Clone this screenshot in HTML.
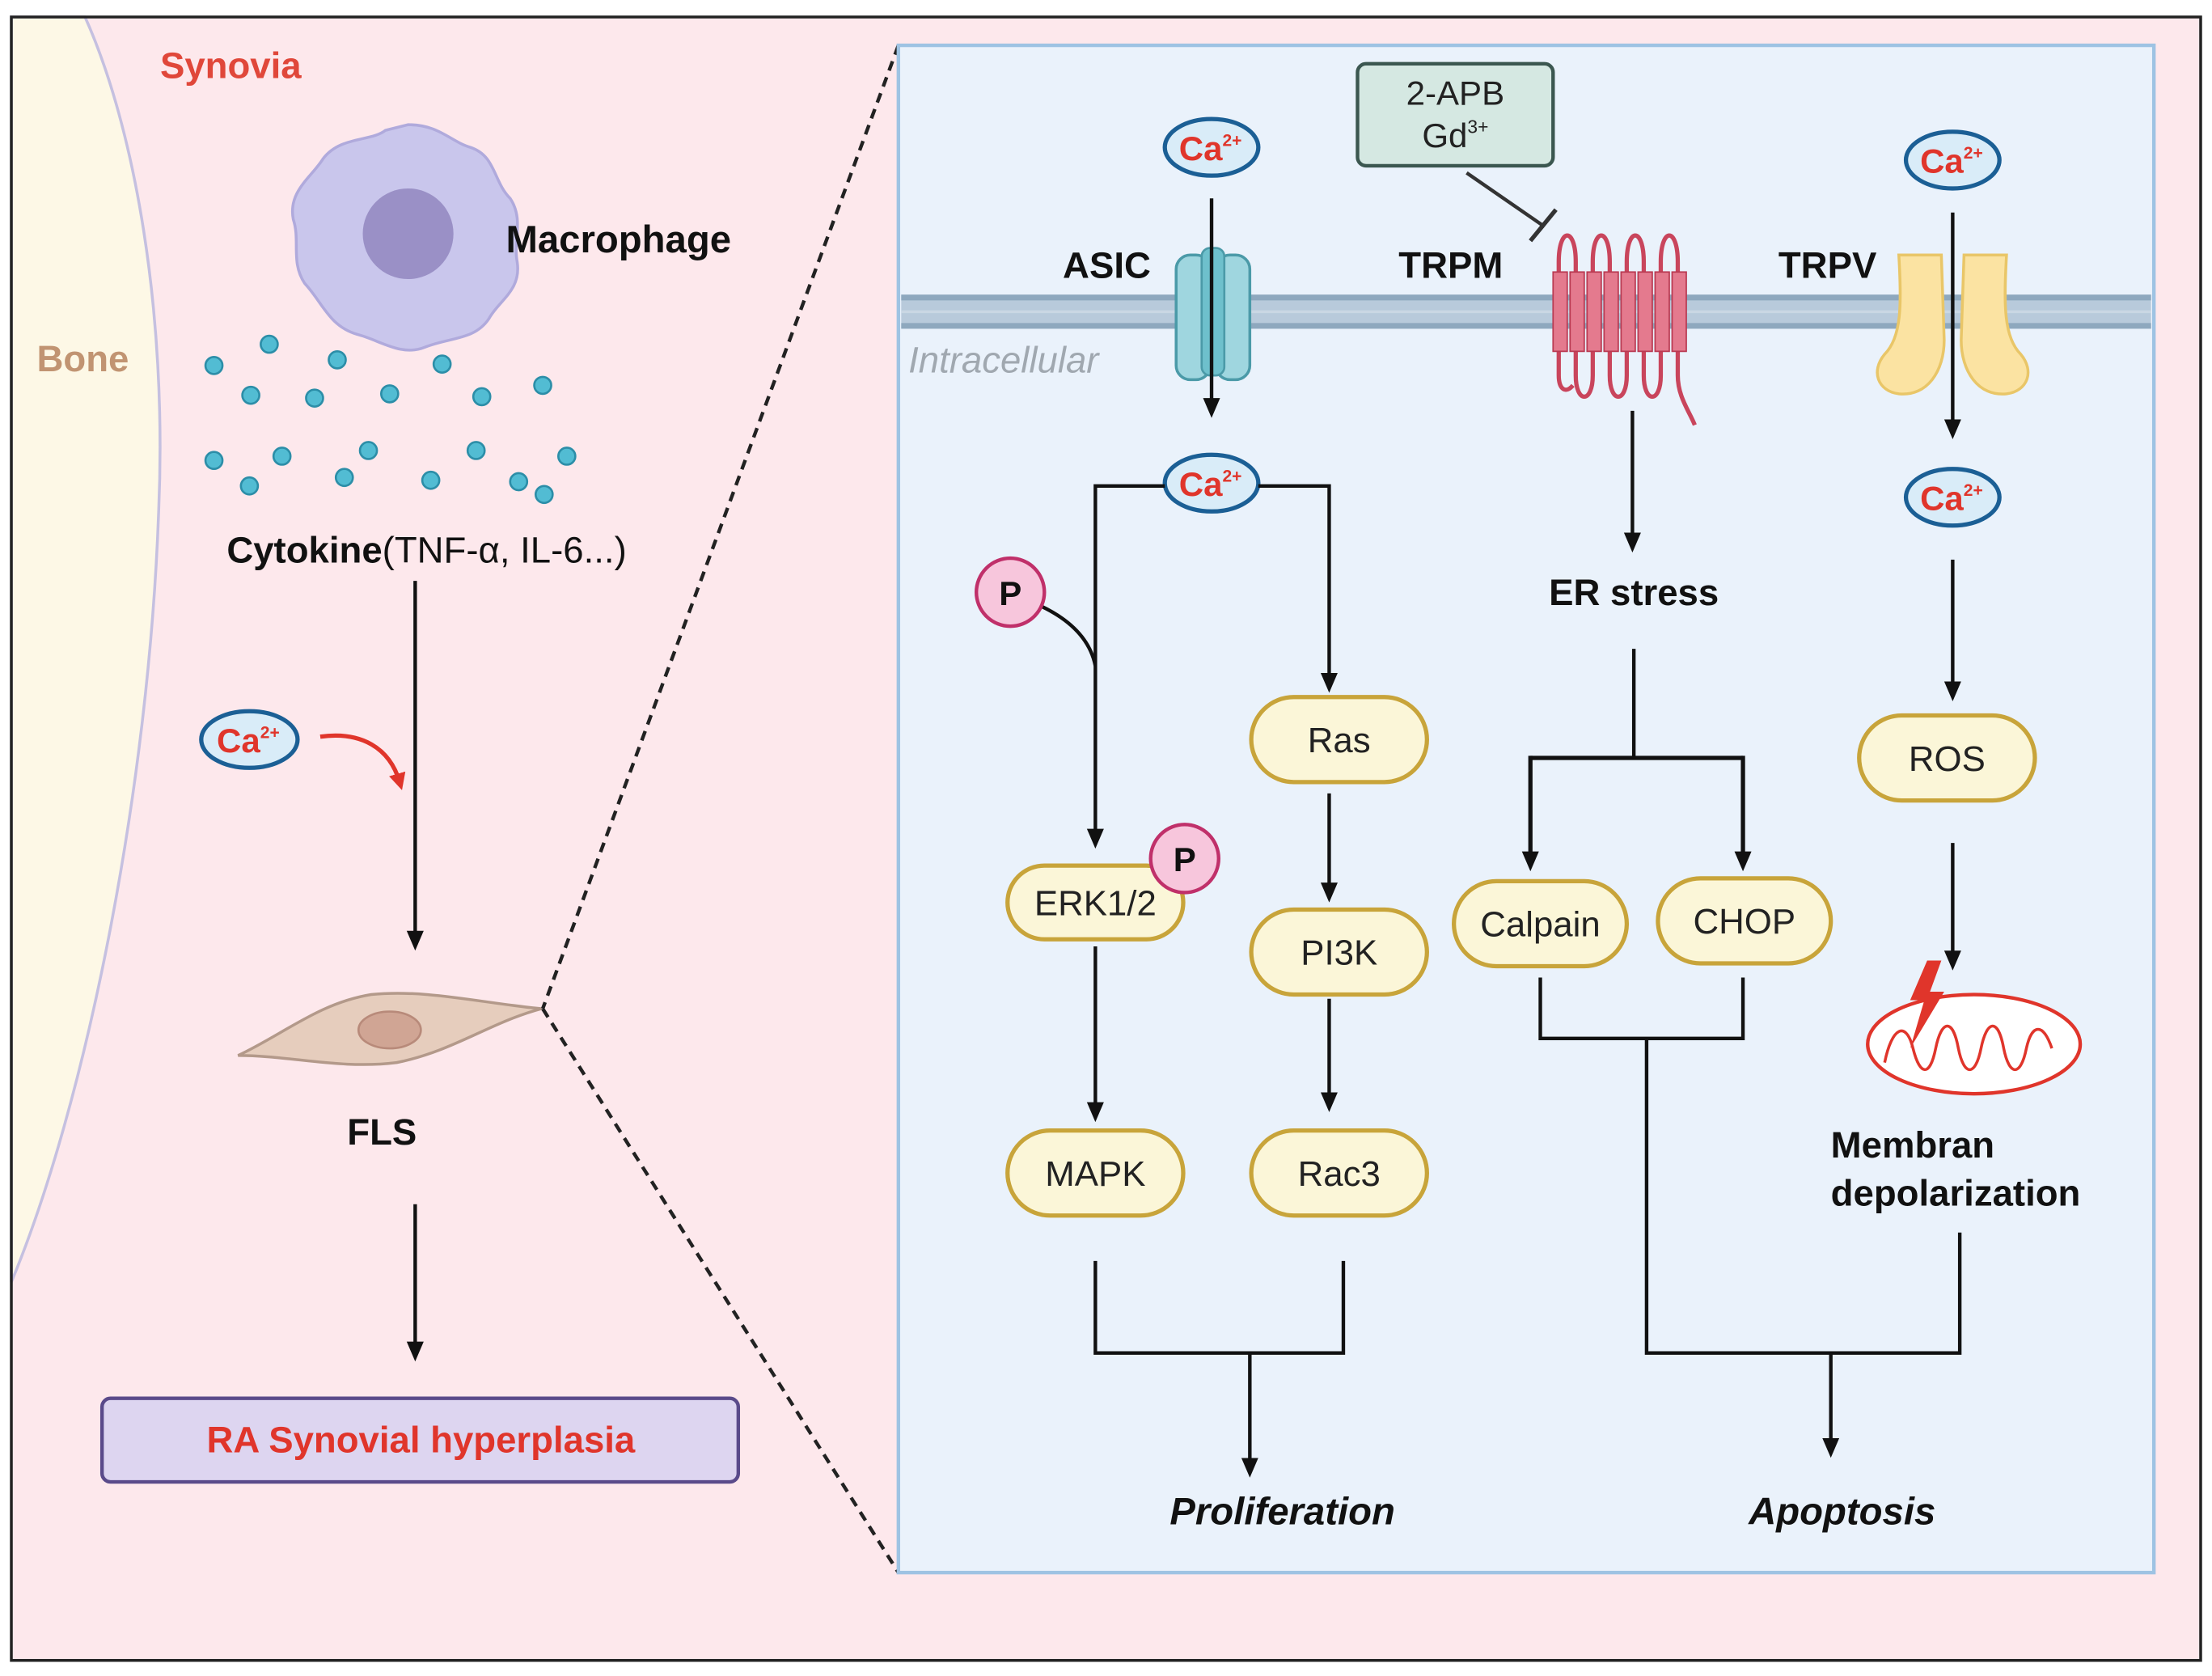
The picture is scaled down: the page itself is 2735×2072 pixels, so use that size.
<!DOCTYPE html>
<html><head><meta charset="utf-8"><style>
html,body{margin:0;padding:0;background:#fff;}
svg{display:block;}
text{font-family:"Liberation Sans",Arial,sans-serif;}
</style></head><body>
<svg width="2735" height="2072" viewBox="0 0 1561 1183" preserveAspectRatio="none" xmlns="http://www.w3.org/2000/svg">
<defs>
<marker id="ah" markerWidth="14" markerHeight="14" refX="7" refY="7" orient="auto" markerUnits="userSpaceOnUse" viewBox="0 0 14 14">
<path d="M0,1 L14,7 L0,13 z" fill="#111"/></marker>
<marker id="ahr" markerWidth="12" markerHeight="12" refX="6" refY="6" orient="auto" markerUnits="userSpaceOnUse" viewBox="0 0 12 12">
<path d="M0,0 L12,6 L0,12 z" fill="#e0352b"/></marker>
</defs>
<rect x="0" y="0" width="1561" height="1183" fill="#fff"/>
<rect x="8" y="12" width="1545" height="1160" fill="#fde8ec"/>
<path d="M8,12 L60,12 C95,90 118,220 112,360 C105,560 60,780 8,905 Z" fill="#fdf8e6" stroke="#c5c0e0" stroke-width="2"/>
<rect x="8" y="12" width="1545" height="1160" fill="none" stroke="#222" stroke-width="2"/>
<text x="113" y="55" font-size="26" font-weight="bold" fill="#e0473a">Synovia</text>
<text x="26" y="262" font-size="26" font-weight="bold" fill="#c19472">Bone</text>
<path d="M288,88 C310,88 318,100 332,104 C350,110 348,128 360,140 C370,155 362,170 365,185 C368,205 352,212 345,225 C335,240 318,238 300,245 C283,252 268,240 252,236 C232,230 228,214 215,200 C205,185 212,170 207,155 C203,135 220,125 228,112 C240,96 262,100 272,92 Z" fill="#c9c6ec" stroke="#b0aadc" stroke-width="2"/>
<circle cx="288" cy="165" r="32" fill="#9a90c6"/>
<text x="357" y="178" font-size="27" font-weight="bold" fill="#111">Macrophage</text>
<g fill="#52bcd3" stroke="#2c8ea8" stroke-width="1.5">
<circle cx="151" cy="258" r="6"/><circle cx="190" cy="243" r="6"/><circle cx="238" cy="254" r="6"/><circle cx="312" cy="257" r="6"/><circle cx="383" cy="272" r="6"/>
<circle cx="177" cy="279" r="6"/><circle cx="222" cy="281" r="6"/><circle cx="275" cy="278" r="6"/><circle cx="340" cy="280" r="6"/>
<circle cx="151" cy="325" r="6"/><circle cx="199" cy="322" r="6"/><circle cx="260" cy="318" r="6"/><circle cx="336" cy="318" r="6"/><circle cx="400" cy="322" r="6"/>
<circle cx="176" cy="343" r="6"/><circle cx="243" cy="337" r="6"/><circle cx="304" cy="339" r="6"/><circle cx="366" cy="340" r="6"/><circle cx="384" cy="349" r="6"/>
</g>
<text x="160" y="397" font-size="26" fill="#111"><tspan font-weight="bold">Cytokine</tspan>(TNF-α, IL-6...)</text>
<line x1="293" y1="410" x2="293" y2="664" stroke="#111" stroke-width="2.5" marker-end="url(#ah)"/>
<ellipse cx="176" cy="522" rx="34" ry="20" fill="#d9ecf8" stroke="#1b5f95" stroke-width="3"/>
<text x="153" y="531" font-size="24" font-weight="bold" fill="#e0352b">Ca<tspan font-size="12" dy="-10">2+</tspan></text>
<path d="M226,520 C255,516 275,528 282,552" fill="none" stroke="#e0352b" stroke-width="3" marker-end="url(#ahr)"/>
<path d="M168,745 C200,730 225,708 262,702 C300,698 340,708 382,712 C345,722 320,742 280,750 C240,755 205,745 168,745 Z" fill="#e6cdbd" stroke="#b3998a" stroke-width="2"/>
<ellipse cx="275" cy="727" rx="22" ry="13" fill="#d0a594" stroke="#b88a7a" stroke-width="1.5"/>
<text x="245" y="808" font-size="26" font-weight="bold" fill="#111">FLS</text>
<line x1="293" y1="850" x2="293" y2="954" stroke="#111" stroke-width="2.5" marker-end="url(#ah)"/>
<rect x="72" y="987" width="449" height="59" rx="6" fill="#ddd5f0" stroke="#5a4a8a" stroke-width="2.5"/>
<text x="297" y="1025" font-size="26" font-weight="bold" fill="#e0352b" text-anchor="middle">RA Synovial hyperplasia</text>
<line x1="634" y1="32" x2="383" y2="712" stroke="#222" stroke-width="2.5" stroke-dasharray="7,5"/>
<line x1="383" y1="712" x2="634" y2="1110" stroke="#222" stroke-width="2.5" stroke-dasharray="7,5"/>
<rect x="634" y="32" width="886" height="1078" fill="#eaf2fb" stroke="#9ec3e3" stroke-width="2.5"/>
<rect x="636" y="208" width="882" height="24" fill="#b8cadb"/>
<line x1="636" y1="210" x2="1518" y2="210" stroke="#8ea8be" stroke-width="4"/>
<line x1="636" y1="230" x2="1518" y2="230" stroke="#8ea8be" stroke-width="4"/>
<line x1="636" y1="220" x2="1518" y2="220" stroke="#c9d7e4" stroke-width="2"/>
<text x="641" y="263" font-size="26" font-style="italic" fill="#a0a8b0">Intracellular</text>
<text x="750" y="196" font-size="26" font-weight="bold" fill="#111">ASIC</text>
<text x="987" y="196" font-size="26" font-weight="bold" fill="#111">TRPM</text>
<text x="1255" y="196" font-size="26" font-weight="bold" fill="#111">TRPV</text>
<rect x="830" y="180" width="24" height="88" rx="10" fill="#9fd6df" stroke="#4b9aa8" stroke-width="2"/>
<rect x="858" y="180" width="24" height="88" rx="10" fill="#9fd6df" stroke="#4b9aa8" stroke-width="2"/>
<rect x="848" y="175" width="16" height="90" rx="6" fill="#6ec0cc" stroke="#4b9aa8" stroke-width="1.5"/>
<g fill="none" stroke="#c9455c" stroke-width="3">
<path d="M1100,185 C1100,160 1112,160 1112,185 L1112,265 C1112,285 1124,285 1124,265 L1124,185 C1124,160 1136,160 1136,185 L1136,265 C1136,285 1148,285 1148,265 L1148,185 C1148,160 1160,160 1160,185 L1160,265 C1160,285 1172,285 1172,265 L1172,185 C1172,160 1184,160 1184,185 L1184,265 C1184,280 1192,290 1196,300"/>
<path d="M1100,185 L1100,265 C1100,275 1105,278 1110,272"/>
</g>
<g fill="#e47a8e" stroke="#b93a52" stroke-width="1">
<rect x="1096" y="192" width="10" height="56"/><rect x="1108" y="192" width="10" height="56"/><rect x="1120" y="192" width="10" height="56"/><rect x="1132" y="192" width="10" height="56"/><rect x="1144" y="192" width="10" height="56"/><rect x="1156" y="192" width="10" height="56"/><rect x="1168" y="192" width="10" height="56"/><rect x="1180" y="192" width="10" height="56"/>
</g>
<rect x="958" y="45" width="138" height="72" rx="6" fill="#d5e8e2" stroke="#3b5750" stroke-width="2.5"/>
<text x="1027" y="74" font-size="24" fill="#222" text-anchor="middle">2-APB</text>
<text x="1027" y="104" font-size="24" fill="#222" text-anchor="middle">Gd<tspan font-size="13" dy="-10">3+</tspan></text>
<line x1="1035" y1="122" x2="1090" y2="160" stroke="#333" stroke-width="2.5"/>
<line x1="1080" y1="170" x2="1098" y2="148" stroke="#333" stroke-width="3"/>
<path d="M1340,180 L1370,180 L1372,240 C1372,262 1360,280 1340,278 C1325,276 1320,262 1330,250 C1342,238 1342,215 1340,180 Z" fill="#fbe3a2" stroke="#e9c668" stroke-width="2"/>
<path d="M1386,180 L1416,180 C1414,215 1414,238 1426,250 C1436,262 1431,276 1416,278 C1396,280 1384,262 1384,240 Z" fill="#fbe3a2" stroke="#e9c668" stroke-width="2"/>
<g>
<ellipse cx="855" cy="104" rx="33" ry="20" fill="#d9ecf8" stroke="#1b5f95" stroke-width="3"/>
<text x="832" y="113" font-size="24" font-weight="bold" fill="#e0352b">Ca<tspan font-size="12" dy="-10">2+</tspan></text>
<ellipse cx="855" cy="341" rx="33" ry="20" fill="#d9ecf8" stroke="#1b5f95" stroke-width="3"/>
<text x="832" y="350" font-size="24" font-weight="bold" fill="#e0352b">Ca<tspan font-size="12" dy="-10">2+</tspan></text>
<ellipse cx="1378" cy="113" rx="33" ry="20" fill="#d9ecf8" stroke="#1b5f95" stroke-width="3"/>
<text x="1355" y="122" font-size="24" font-weight="bold" fill="#e0352b">Ca<tspan font-size="12" dy="-10">2+</tspan></text>
<ellipse cx="1378" cy="351" rx="33" ry="20" fill="#d9ecf8" stroke="#1b5f95" stroke-width="3"/>
<text x="1355" y="360" font-size="24" font-weight="bold" fill="#e0352b">Ca<tspan font-size="12" dy="-10">2+</tspan></text>
</g>
<g fill="none" stroke="#111" stroke-width="2.5">
<line x1="855" y1="140" x2="855" y2="288" marker-end="url(#ah)"/>
<polyline points="822,343 773,343 773,592" marker-end="url(#ah)"/>
<polyline points="888,343 938,343 938,482" marker-end="url(#ah)"/>
<line x1="938" y1="560" x2="938" y2="630" marker-end="url(#ah)"/>
<line x1="938" y1="705" x2="938" y2="778" marker-end="url(#ah)"/>
<line x1="773" y1="668" x2="773" y2="785" marker-end="url(#ah)"/>
<polyline points="773,890 773,955 948,955 948,890"/>
<line x1="882" y1="955" x2="882" y2="1036" marker-end="url(#ah)"/>
<line x1="1152" y1="290" x2="1152" y2="383" marker-end="url(#ah)"/>
<line x1="1153" y1="458" x2="1153" y2="535"/>
<polyline points="1080,535 1230,535" stroke-width="3"/>
<line x1="1080" y1="533.5" x2="1080" y2="608" stroke-width="3" marker-end="url(#ah)"/>
<line x1="1230" y1="533.5" x2="1230" y2="608" stroke-width="3" marker-end="url(#ah)"/>
<polyline points="1087,690 1087,733 1230,733 1230,690"/>
<polyline points="1162,733 1162,955 1383,955 1383,870"/>
<line x1="1292" y1="955" x2="1292" y2="1022" marker-end="url(#ah)"/>
<line x1="1378" y1="150" x2="1378" y2="303" marker-end="url(#ah)"/>
<line x1="1378" y1="395" x2="1378" y2="488" marker-end="url(#ah)"/>
<line x1="1378" y1="595" x2="1378" y2="678" marker-end="url(#ah)"/>
<path d="M735,428 C760,440 770,455 773,470"/>
</g>
<g fill="#fbf6d8" stroke="#c8a43a" stroke-width="3">
<rect x="883" y="492" width="124" height="60" rx="30"/>
<rect x="883" y="642" width="124" height="60" rx="30"/>
<rect x="883" y="798" width="124" height="60" rx="30"/>
<rect x="711" y="611" width="124" height="52" rx="26"/>
<rect x="711" y="798" width="124" height="60" rx="30"/>
<rect x="1026" y="622" width="122" height="60" rx="30"/>
<rect x="1170" y="620" width="122" height="60" rx="30"/>
<rect x="1312" y="505" width="124" height="60" rx="30"/>
</g>
<g font-size="25" fill="#222" text-anchor="middle">
<text x="945" y="531">Ras</text>
<text x="945" y="681">PI3K</text>
<text x="945" y="837">Rac3</text>
<text x="773" y="646">ERK1/2</text>
<text x="773" y="837">MAPK</text>
<text x="1087" y="661">Calpain</text>
<text x="1231" y="659">CHOP</text>
<text x="1374" y="544">ROS</text>
</g>
<circle cx="713" cy="418" r="24" fill="#f7c6dc" stroke="#c0306a" stroke-width="2.5"/>
<text x="713" y="427" font-size="24" font-weight="bold" fill="#111" text-anchor="middle">P</text>
<circle cx="836" cy="606" r="24" fill="#f7c6dc" stroke="#c0306a" stroke-width="2.5"/>
<text x="836" y="615" font-size="24" font-weight="bold" fill="#111" text-anchor="middle">P</text>
<text x="1153" y="427" font-size="26" font-weight="bold" fill="#111" text-anchor="middle">ER stress</text>
<ellipse cx="1393" cy="737" rx="75" ry="35" fill="#fff" stroke="#e0352b" stroke-width="2.5"/>
<path d="M1330,750 C1335,725 1345,720 1350,740 C1355,760 1362,760 1366,740 C1370,720 1378,718 1382,740 C1386,760 1394,760 1398,740 C1402,720 1410,718 1414,740 C1418,760 1426,760 1430,740 C1434,722 1442,722 1448,740" fill="none" stroke="#e0352b" stroke-width="2"/>
<path d="M1360,678 L1348,706 L1358,706 L1348,740 L1372,700 L1362,700 L1370,678 Z" fill="#e0352b"/>
<text x="1292" y="817" font-size="26" font-weight="bold" fill="#111">Membran</text>
<text x="1292" y="851" font-size="26" font-weight="bold" fill="#111">depolarization</text>
<text x="905" y="1076" font-size="27" font-weight="bold" font-style="italic" fill="#111" text-anchor="middle">Proliferation</text>
<text x="1300" y="1076" font-size="27" font-weight="bold" font-style="italic" fill="#111" text-anchor="middle">Apoptosis</text>
</svg>
</body></html>
